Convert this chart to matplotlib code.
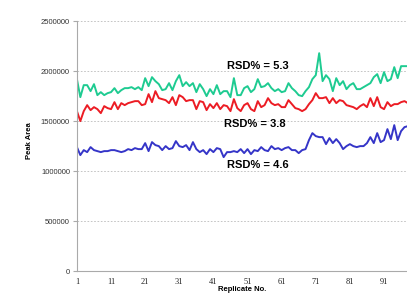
import numpy as np
import matplotlib
matplotlib.use("Agg")
import matplotlib.pyplot as plt

green = [1.92, 1.74, 1.86, 1.86, 1.80, 1.87, 1.76, 1.79, 1.76, 1.78,
         1.79, 1.83, 1.78, 1.81, 1.83, 1.83, 1.84, 1.82, 1.84, 1.81,
         1.93, 1.85, 1.94, 1.90, 1.87, 1.81, 1.82, 1.88, 1.81, 1.90,
         1.96, 1.85, 1.89, 1.85, 1.88, 1.79, 1.87, 1.82, 1.75, 1.82,
         1.77, 1.86, 1.77, 1.80, 1.80, 1.74, 1.93, 1.76, 1.76, 1.83,
         1.85, 1.79, 1.82, 1.92, 1.84, 1.85, 1.88, 1.83, 1.80, 1.82,
         1.79, 1.80, 1.88, 1.83, 1.80, 1.76, 1.75, 1.80, 1.84, 1.92,
         1.96, 2.18, 1.90, 1.96, 1.92, 1.80, 1.93, 1.86, 1.90, 1.82,
         1.86, 1.88, 1.82, 1.82, 1.84, 1.86, 1.88, 1.94, 1.97, 1.88,
         1.99, 1.90, 1.92, 2.04, 1.93, 2.05, 2.05, 2.05]

red = [1.60, 1.50, 1.60, 1.66, 1.61, 1.64, 1.62, 1.58, 1.65, 1.63,
       1.62, 1.69, 1.62, 1.68, 1.66, 1.68, 1.69, 1.70, 1.70, 1.66,
       1.67, 1.77, 1.69, 1.80, 1.73, 1.72, 1.71, 1.68, 1.74, 1.66,
       1.76, 1.74, 1.70, 1.71, 1.71, 1.62, 1.70, 1.69, 1.61, 1.67,
       1.63, 1.68, 1.62, 1.66, 1.65, 1.60, 1.72, 1.63, 1.60, 1.66,
       1.68, 1.62, 1.60, 1.70, 1.64, 1.66, 1.73, 1.68, 1.66, 1.67,
       1.64, 1.64, 1.71, 1.67, 1.63, 1.62, 1.60, 1.62, 1.67, 1.71,
       1.78, 1.73, 1.73, 1.74, 1.68, 1.73, 1.68, 1.71, 1.70, 1.66,
       1.65, 1.64, 1.62, 1.65, 1.67, 1.64, 1.73, 1.65, 1.74, 1.64,
       1.62, 1.69, 1.65, 1.67, 1.67, 1.69, 1.70, 1.68]

blue = [1.24, 1.16, 1.21, 1.19, 1.24, 1.21, 1.20, 1.19, 1.20, 1.20,
        1.21, 1.21, 1.20, 1.19, 1.20, 1.22, 1.21, 1.23, 1.22, 1.22,
        1.28, 1.20, 1.29, 1.26, 1.25, 1.21, 1.25, 1.22, 1.23, 1.30,
        1.25, 1.24, 1.26, 1.21, 1.29, 1.22, 1.19, 1.21, 1.17, 1.22,
        1.19, 1.23, 1.22, 1.14, 1.19, 1.19, 1.20, 1.19, 1.22, 1.18,
        1.22, 1.17, 1.21, 1.20, 1.24, 1.21, 1.20, 1.25, 1.22, 1.23,
        1.21, 1.23, 1.24, 1.21, 1.21, 1.18, 1.21, 1.22, 1.31, 1.38,
        1.35, 1.34, 1.34, 1.27, 1.33, 1.28, 1.32, 1.28, 1.22, 1.25,
        1.27, 1.25, 1.24, 1.25, 1.25, 1.28, 1.34, 1.28, 1.38, 1.29,
        1.31, 1.42, 1.32, 1.46, 1.31, 1.40, 1.44, 1.45]

rsd_labels = ['RSD% = 5.3', 'RSD% = 3.8', 'RSD% = 4.6']
rsd_pos = [(54, 2.05e6), (53, 1.47e6), (54, 1.06e6)]

yticks = np.arange(0, 2500001, 500000)
xticks = np.arange(1, 100, 10)


def run():
  x = np.arange(1, len(green) + 1)
  fig = plt.figure(figsize=(4.07, 2.94), dpi=100)
  ax = fig.add_axes([0.189, 0.078, 0.83, 0.850])
  ax.plot(x, np.array(green) * 1e6, color='#1ecb91', lw=1.4)
  ax.plot(x, np.array(red) * 1e6, color='#ec1c24', lw=1.4)
  ax.plot(x, np.array(blue) * 1e6, color='#3535c8', lw=1.4)
  for t, (px, py) in zip(rsd_labels, rsd_pos):
    ax.text(px, py, t, ha='center', va='center', fontsize=8, weight='bold',
            family='Liberation Sans')
  ax.set_xlim(1, 100)
  ax.set_ylim(0, 2500000)
  ax.set_yticks(yticks)
  ax.set_yticklabels([str(v) for v in yticks], family='Liberation Sans', fontsize=5.5, color='#333333')
  ax.set_xticks(xticks)
  ax.set_xticklabels([str(v) for v in xticks], family='Liberation Serif', fontsize=6, color='#222222')
  ax.yaxis.grid(True, ls=(0, (2, 2)), color='#bbbbbb', lw=0.6)
  ax.set_axisbelow(True)
  for s in ['top', 'right']:
    ax.spines[s].set_visible(False)
  for s in ['left', 'bottom']:
    ax.spines[s].set_color('#aaaaaa')
    ax.spines[s].set_linewidth(0.8)
  ax.tick_params(axis='y', length=3, color='#aaaaaa', pad=2)
  ax.tick_params(axis='x', length=0, pad=5)
  ax.set_ylabel('Peak Area', fontsize=5.5, weight='bold', family='Liberation Sans')
  ax.yaxis.set_label_coords(-0.13, 0.52)
  ax.set_xlabel('Replicate No.', fontsize=5.5, weight='bold', family='Liberation Sans')
  ax.xaxis.set_label_coords(0.49, -0.06)
  fig.savefig('out.png', dpi=100)


if __name__ == '__main__':
  run()
